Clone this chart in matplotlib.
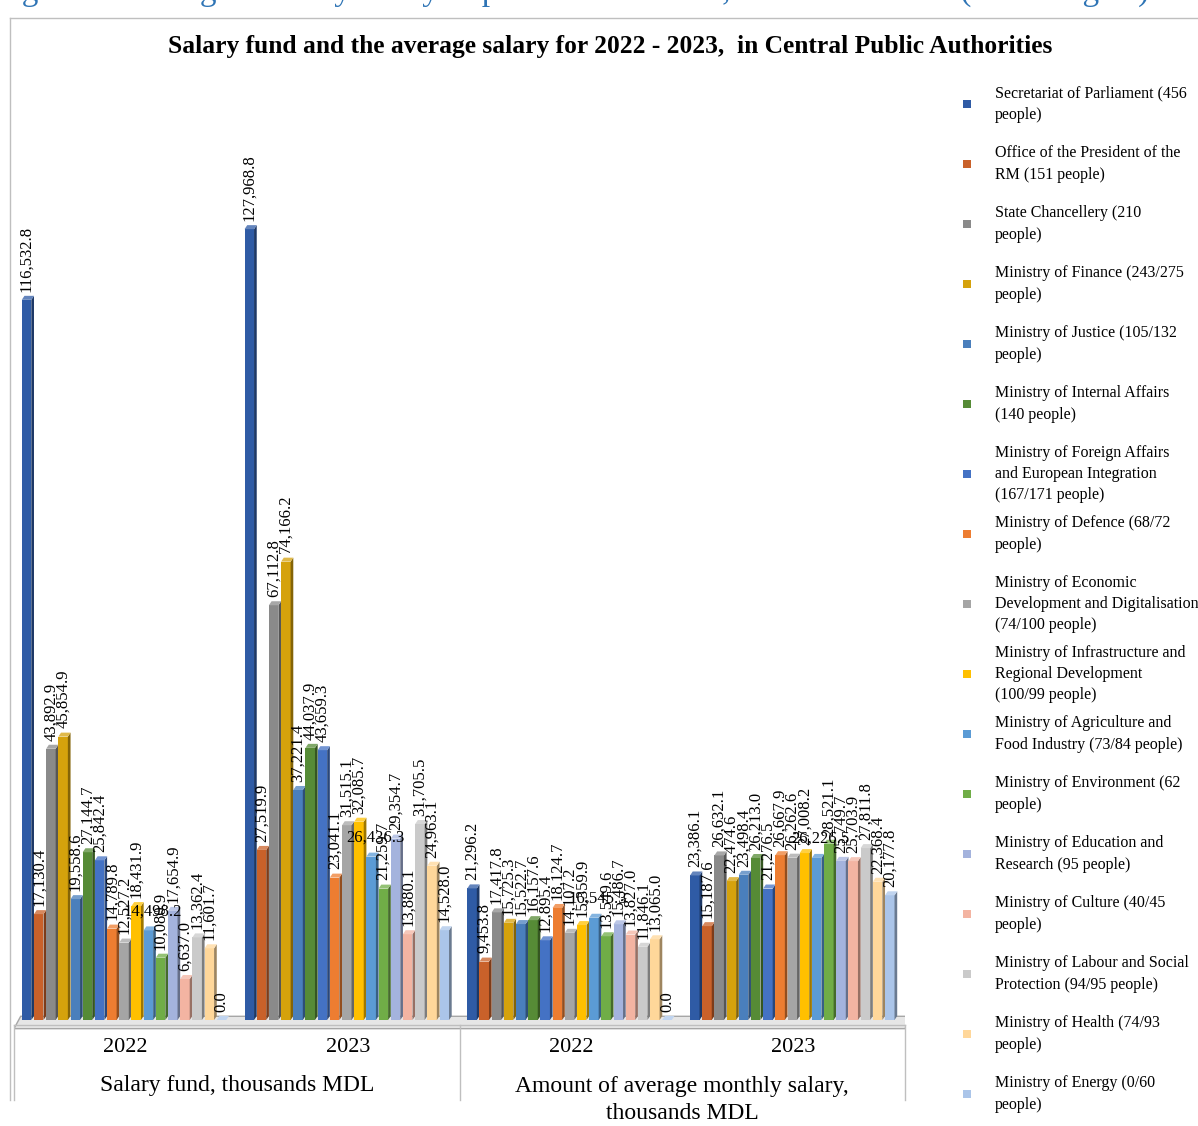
import matplotlib
matplotlib.use("Agg")
import matplotlib.pyplot as plt
from matplotlib.patches import Polygon
from matplotlib.lines import Line2D
from matplotlib.colors import to_rgb
from matplotlib.transforms import blended_transform_factory
import numpy as np

plt.rcParams["font.family"] = ["Liberation Serif", "DejaVu Serif"]

# --- data ---
years = ["2022", "2023", "2022", "2023"]
groups = ["Salary fund, thousands MDL", "Amount of average monthly salary,\nthousands MDL"]

institutions = [
    "Secretariat of Parliament (456\npeople)",
    "Office of the President of the\nRM (151 people)",
    "State Chancellery (210\npeople)",
    "Ministry of Finance (243/275\npeople)",
    "Ministry of Justice (105/132\npeople)",
    "Ministry of Internal Affairs\n(140 people)",
    "Ministry of Foreign Affairs\nand European Integration\n(167/171 people)",
    "Ministry of Defence (68/72\npeople)",
    "Ministry of Economic\nDevelopment and Digitalisation\n(74/100 people)",
    "Ministry of Infrastructure and\nRegional Development\n(100/99 people)",
    "Ministry of Agriculture and\nFood Industry (73/84 people)",
    "Ministry of Environment (62\npeople)",
    "Ministry of Education and\nResearch (95 people)",
    "Ministry of Culture (40/45\npeople)",
    "Ministry of Labour and Social\nProtection (94/95 people)",
    "Ministry of Health (74/93\npeople)",
    "Ministry of Energy (0/60\npeople)",
]

fund_2022 = [116532.8, 17130.4, 43892.9, 45854.9, 19558.6, 27144.7, 25842.4, 14789.8,
             12527.2, 18431.9, 14498.2, 10080.9, 17654.9, 6637.0, 13362.4, 11601.7, 0.0]
fund_2023 = [127968.8, 27519.9, 67112.8, 74166.2, 37221.4, 44037.9, 43659.3, 23041.1,
             31515.1, 32085.7, 26436.3, 21259.7, 29354.7, 13880.1, 31705.5, 24963.1, 14528.0]
avg_2022 = [21296.2, 9453.8, 17417.8, 15725.3, 15522.7, 16157.6, 12895.4, 18124.7,
            14107.2, 15359.9, 16545.3, 13549.6, 15486.7, 13827.0, 11846.1, 13065.0, 0.0]
avg_2023 = [23386.1, 15187.6, 26632.1, 22474.6, 23498.4, 26213.0, 21276.5, 26667.9,
            26262.6, 27008.2, 26226.5, 28521.1, 25749.7, 25703.9, 27811.8, 22368.4, 20177.8]

colors = ["#2F5BA5", "#C9612A", "#8A8A8A", "#D5A20C", "#4A7FBC", "#568B36", "#4472C4",
          "#ED7D31", "#A5A5A5", "#FFC000", "#5B9BD5", "#70AD47", "#A4B3DD", "#F3B4A2",
          "#CACACA", "#FFD79A", "#ABC5E9"]

horizontal_label = "Ministry of Agriculture and\nFood Industry (73/84 people)"

# values in thousands for plotting (group x series)
data = np.array([fund_2022, fund_2023, avg_2022, avg_2023]) / 1000.0


def shade(c, f):
    r, g, b = to_rgb(c)
    if f < 1:
        return (r * f, g * f, b * f)
    return (r + (1 - r) * (f - 1), g + (1 - g) * (f - 1), b + (1 - b) * (f - 1))


W, H = 1198, 1126
fig = plt.figure(figsize=(W / 100, H / 100), dpi=100)

px_per_k = 6.18
ylo = -1.6
yhi = (1020 - 70) / px_per_k
ax_bottom = 1020 - ylo * px_per_k
ax = fig.add_axes([14 / W, (H - ax_bottom) / H, (905 - 14) / W, (ax_bottom - 70) / H])
ax.set_xlim(-0.5, 3.5)
ax.set_ylim(ylo, yhi)
ax.axis("off")

n = len(institutions)
slot = 0.93 / n
face = slot * 0.78
dx = slot * 0.22
dy = 4 / px_per_k

# floor
floor = Polygon([(-0.5, ylo + 0.2), (3.5, ylo + 0.2), (3.5 + 0.03, 0.6), (-0.5 + 0.03, 0.6)],
                closed=True, facecolor="#E6E6E6", edgecolor="#A6A6A6", lw=1.0, zorder=1)
ax.add_patch(floor)

for g in range(4):
    for i in range(n):
        v = data[g, i]
        x0 = g - 0.465 + i * slot
        c = colors[i]
        ax.bar(x0, v, width=face, align="edge", color=c, lw=0, zorder=3 + i)
        side = Polygon([(x0 + face, 0), (x0 + face + dx, dy), (x0 + face + dx, v + dy), (x0 + face, v)],
                       closed=True, facecolor=shade(c, 0.62), lw=0, zorder=3 + i)
        top = Polygon([(x0, v), (x0 + dx, v + dy), (x0 + face + dx, v + dy), (x0 + face, v)],
                      closed=True, facecolor=shade(c, 1.25), lw=0, zorder=3 + i)
        ax.add_patch(side)
        ax.add_patch(top)
        lbl = f"{v * 1000:,.1f}"
        if institutions[i] == horizontal_label:
            ax.annotate(lbl, (x0 + face / 2, v + dy), xytext=(3, 5), textcoords="offset points",
                        ha="center", va="bottom", fontsize=12, zorder=40)
        else:
            ax.annotate(lbl, (x0 + face / 2, v + dy), xytext=(0, 3), textcoords="offset points",
                        rotation=90, ha="center", va="bottom", fontsize=12, zorder=40)

# two-level category axis below the floor
tr = blended_transform_factory(ax.transData, fig.transFigure)


def fy(p):
    return (H - p) / H


line_kw = dict(color="#BFBFBF", lw=1.0, transform=tr)
fig.add_artist(Line2D([-0.5, 3.5], [fy(1025), fy(1025)], **line_kw))
for xv in [-0.5, 1.5, 3.5]:
    fig.add_artist(Line2D([xv, xv], [fy(1025), fy(1100)], **line_kw))

for g, yr in enumerate(years):
    fig.text(g, fy(1047), yr, transform=tr, ha="center", va="center", fontsize=16)
fig.text(0.5, fy(1085), groups[0], transform=tr, ha="center", va="center", fontsize=17)
fig.text(2.5, fy(1100), groups[1], transform=tr, ha="center", va="center", fontsize=17,
         linespacing=1.38)

# outer chart frame
fig.add_artist(Line2D([10 / W, 10 / W], [fy(18), fy(1100)], color="#BFBFBF", lw=1.0))
fig.add_artist(Line2D([10 / W, 1.0], [fy(18), fy(18)], color="#BFBFBF", lw=1.0))

# figure caption partly cut at the top
fig.text(-6 / W, fy(-9), "Figure 4. Average monthly salary in public institutions, CPA 2022-2023 (as of August)",
         ha="left", va="center", fontsize=24, color="#2E74B5")

fig.text(610 / W, fy(47), "Salary fund and the average salary for 2022 - 2023,  in Central Public Authorities",
         ha="center", va="center", fontsize=18.4, fontweight="bold")

# legend
ypos = 86
for i, name in enumerate(institutions):
    nl = name.count("\n") + 1
    block = 20 * nl
    yc = ypos + block / 2 - 2
    fig.patches.append(plt.Rectangle((963 / W, fy(yc + 4)), 8 / W, 8 / H, transform=fig.transFigure,
                                     facecolor=colors[i], lw=0, figure=fig))
    fig.text(995 / W, fy(yc), name, ha="left", va="center", fontsize=11.5, linespacing=1.45)
    ypos += 40 + 10 * nl

fig.savefig("out.png", dpi=100)
